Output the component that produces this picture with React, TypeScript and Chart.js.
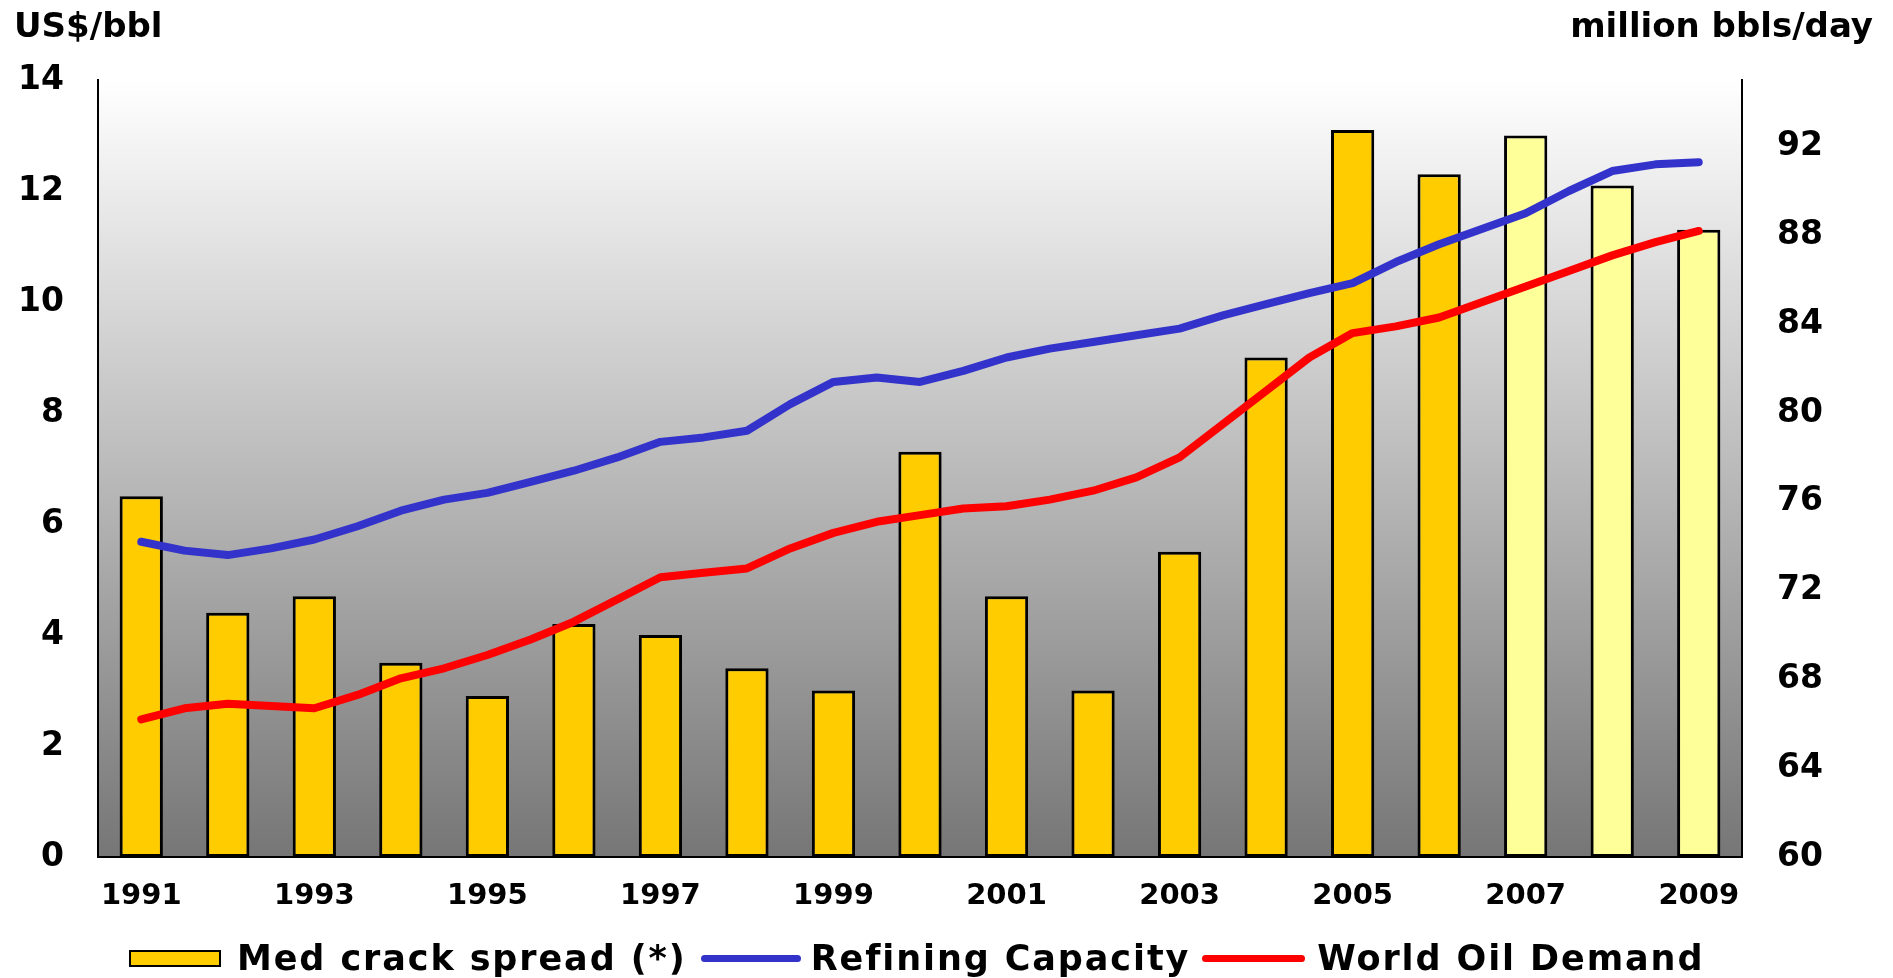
import { useEffect, useRef } from 'react';
import { Chart, registerables } from 'chart.js';

Chart.register(...registerables);

// ---- data ----
const years = ['1991', '1992', '1993', '1994', '1995', '1996', '1997', '1998', '1999', '2000', '2001', '2002', '2003', '2004', '2005', '2006', '2007', '2008', '2009'];
const shownYearLabels = ['1991', '1993', '1995', '1997', '1999', '2001', '2003', '2005', '2007', '2009'];
const crackSpread = [6.5, 4.4, 4.7, 3.5, 2.9, 4.2, 4.0, 3.4, 3.0, 7.3, 4.7, 3.0, 5.5, 9.0, 13.1, 12.3, 13.0, 12.1, 11.3];
const estimateFromYear = 2007;

const lineYears = [1991, 1991.5, 1992, 1992.5, 1993, 1993.5, 1994, 1994.5, 1995, 1995.5, 1996, 1996.5, 1997, 1997.5, 1998, 1998.5, 1999, 1999.5, 2000, 2000.5, 2001, 2001.5, 2002, 2002.5, 2003, 2003.5, 2004, 2004.5, 2005, 2005.5, 2006, 2006.5, 2007, 2007.5, 2008, 2008.5, 2009];
const refiningCapacity = [74.2, 73.8, 73.6, 73.9, 74.3, 74.9, 75.6, 76.1, 76.4, 76.9, 77.4, 78.0, 78.7, 78.9, 79.2, 80.4, 81.4, 81.6, 81.4, 81.9, 82.5, 82.9, 83.2, 83.5, 83.8, 84.4, 84.9, 85.4, 85.85, 86.8, 87.6, 88.3, 89.0, 90.0, 90.9, 91.2, 91.3];
const worldOilDemand = [66.2, 66.7, 66.9, 66.8, 66.7, 67.3, 68.05, 68.5, 69.1, 69.8, 70.6, 71.6, 72.6, 72.8, 73.0, 73.9, 74.6, 75.1, 75.4, 75.7, 75.8, 76.1, 76.5, 77.1, 78.0, 79.5, 81.0, 82.5, 83.6, 83.9, 84.3, 85.0, 85.7, 86.4, 87.1, 87.7, 88.2];

const leftAxis = { min: 0, max: 14, step: 2, title: 'US$/bbl' };
const rightAxis = { min: 60, max: 95, step: 4, title: 'million bbls/day' };

const seriesNames = ['Med crack spread (*)', 'Refining Capacity', 'World Oil Demand'];

// ---- styles ----
const FONT = '"DejaVu Sans", "Liberation Sans", Arial, sans-serif';
const BAR_COLOR = '#FFCC00';
const BAR_EST_COLOR = '#FFFF99';
const BLUE = '#3333CC';
const RED = '#FF0000';

const W = 1893;
const H = 978;

const bgPlugin = {
  id: 'plotGradient',
  beforeDraw(chart: any) {
    const { ctx, chartArea } = chart;
    if (!chartArea) return;
    const g = ctx.createLinearGradient(0, chartArea.top, 0, chartArea.bottom);
    g.addColorStop(0, '#FFFFFF');
    g.addColorStop(1, '#767676');
    ctx.save();
    ctx.fillStyle = g;
    ctx.fillRect(chartArea.left, chartArea.top, chartArea.right - chartArea.left, chartArea.bottom - chartArea.top);
    ctx.restore();
  },
};

const titlePlugin = {
  id: 'axisTitles',
  afterDraw(chart: any) {
    const { ctx } = chart;
    ctx.save();
    ctx.fillStyle = '#000';
    ctx.font = `bold 34px ${FONT}`;
    ctx.textBaseline = 'alphabetic';
    ctx.textAlign = 'left';
    ctx.fillText(leftAxis.title, 14, 37);
    ctx.textAlign = 'right';
    ctx.fillText(rightAxis.title, 1873, 37);
    ctx.restore();
  },
};

export default function App() {
  const ref = useRef<HTMLCanvasElement>(null);

  useEffect(() => {
    const canvas = ref.current;
    if (!canvas) return;
    const chart = new Chart(canvas, {
      type: 'bar',
      data: {
        labels: years,
        datasets: [
          {
            type: 'line',
            label: seriesNames[2],
            data: lineYears.map((x, i) => ({ x, y: worldOilDemand[i] })) as any,
            xAxisID: 'x2',
            yAxisID: 'y2',
            borderColor: RED,
            backgroundColor: RED,
            borderWidth: 8,
            pointRadius: 0,
            tension: 0,
            borderCapStyle: 'round',
            borderJoinStyle: 'round',
            order: 0,
          } as any,
          {
            type: 'line',
            label: seriesNames[1],
            data: lineYears.map((x, i) => ({ x, y: refiningCapacity[i] })) as any,
            xAxisID: 'x2',
            yAxisID: 'y2',
            borderColor: BLUE,
            backgroundColor: BLUE,
            borderWidth: 8,
            pointRadius: 0,
            tension: 0,
            borderCapStyle: 'round',
            borderJoinStyle: 'round',
            order: 1,
          } as any,
          {
            type: 'bar',
            label: seriesNames[0],
            data: crackSpread,
            xAxisID: 'x',
            yAxisID: 'y',
            backgroundColor: years.map((y) => (Number(y) >= estimateFromYear ? BAR_EST_COLOR : BAR_COLOR)),
            borderColor: '#000000',
            borderWidth: 3,
            borderSkipped: false,
            grouped: false,
            categoryPercentage: 0.5,
            barPercentage: 1.0,
            order: 2,
          } as any,
        ],
      },
      options: {
        responsive: false,
        maintainAspectRatio: false,
        devicePixelRatio: 1,
        animation: false,
        layout: { padding: { top: 80, left: 0, right: 0, bottom: 61 } },
        plugins: {
          legend: { display: false },
          tooltip: { enabled: false },
        },
        scales: {
          x: {
            type: 'category',
            position: 'bottom',
            offset: true,
            grid: { display: false, drawTicks: false },
            border: { display: true, color: '#000', width: 2 },
            ticks: {
              autoSkip: false,
              maxRotation: 0,
              minRotation: 0,
              padding: 22,
              color: '#000',
              font: { family: FONT, size: 29, weight: 'bold' },
              callback: (_v: any, i: number) => (shownYearLabels.includes(years[i]) ? years[i] : ''),
            },
            afterFit: (s: any) => {
              s.height = 60;
            },
          },
          x2: {
            type: 'linear',
            display: false,
            offset: false,
            grid: { offset: false },
            min: Number(years[0]) - 0.5,
            max: Number(years[years.length - 1]) + 0.5,
          },
          y: {
            type: 'linear',
            position: 'left',
            min: leftAxis.min,
            max: leftAxis.max,
            grid: { display: false, drawTicks: false },
            border: { display: true, color: '#000', width: 2 },
            ticks: {
              stepSize: leftAxis.step,
              includeBounds: false,
              padding: 34,
              color: '#000',
              font: { family: FONT, size: 33, weight: 'bold' },
            },
            afterFit: (s: any) => {
              s.width = 98;
            },
          },
          y2: {
            type: 'linear',
            position: 'right',
            min: rightAxis.min,
            max: rightAxis.max,
            grid: { display: false, drawTicks: false },
            border: { display: true, color: '#000', width: 2 },
            ticks: {
              stepSize: rightAxis.step,
              includeBounds: false,
              padding: 35,
              color: '#000',
              font: { family: FONT, size: 33, weight: 'bold' },
            },
            afterFit: (s: any) => {
              s.width = 151;
            },
          },
        },
      } as any,
      plugins: [bgPlugin, titlePlugin],
    });
    return () => chart.destroy();
  }, []);

  const textStyle: any = {
    fontFamily: FONT,
    fontWeight: 'bold',
    fontSize: 35,
    letterSpacing: '1.9px',
    lineHeight: '40px',
    color: '#000',
    whiteSpace: 'nowrap',
  };

  return (
    <div style={{ position: 'fixed', left: 0, top: 0, width: W, height: H, background: '#fff', overflow: 'hidden' }}>
      <canvas ref={ref} width={W} height={H} style={{ display: 'block', width: W, height: H }} />
      <div
        style={{
          position: 'absolute',
          left: 129,
          top: 938,
          height: 40,
          display: 'flex',
          alignItems: 'center',
        }}
      >
        <div style={{ width: 88, height: 13, background: BAR_COLOR, border: '2px solid #000', marginRight: 16 }} />
        <span style={{ ...textStyle, marginRight: 14 }}>{seriesNames[0]}</span>
        <div style={{ width: 100, height: 7, borderRadius: 4, background: BLUE, marginRight: 10 }} />
        <span style={{ ...textStyle, marginRight: 12 }}>{seriesNames[1]}</span>
        <div style={{ width: 103, height: 7, borderRadius: 4, background: RED, marginRight: 12 }} />
        <span style={textStyle}>{seriesNames[2]}</span>
      </div>
    </div>
  );
}
